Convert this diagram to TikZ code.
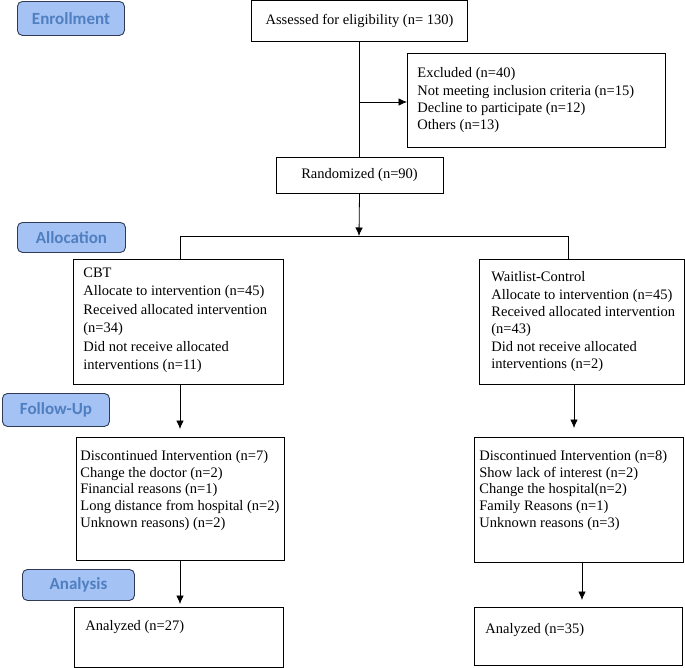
\documentclass[tikz,border=0pt]{standalone}
\usepackage{fontspec}
\setmainfont{Liberation Serif}
\newfontfamily\stagefont{Carlito}
\usetikzlibrary{arrows.meta}

\definecolor{stagefill}{HTML}{A4C2F4}
\definecolor{stagetext}{HTML}{4F7FC0}
\definecolor{stageline}{HTML}{2F3B55}

\begin{document}
\begin{tikzpicture}[x=1pt,y=-1pt,>={Latex[length=8.5pt,width=7.5pt]},line width=0.8pt,
        stage/.style={draw=stageline,fill=stagefill,rounded corners=5pt,line width=0.9pt,
          anchor=north west,inner sep=0pt,text=stagetext,
          font=\stagefont\bfseries\fontsize{17}{17}\selectfont},
        box/.style={draw,line width=1pt,anchor=north west,inner sep=0pt,
          font=\rmfamily\fontsize{14.5}{17}\selectfont},
        txt/.style={anchor=north west,inner sep=0pt,align=left,
          font=\rmfamily\fontsize{14.5}{17.3}\selectfont}]

  \useasboundingbox (0,0) rectangle (685,667);

  % stage labels
  \node[stage,minimum width=107pt,minimum height=34pt] (enrol) at (17,1) {Enrollment};
  \node[stage,minimum width=108pt,minimum height=30pt] (alloc) at (17,222) {Allocation};
  \node[stage,minimum width=107pt,minimum height=33pt] (follow) at (2,393) {Follow-Up};
  \node[stage,minimum width=112pt,minimum height=31pt] (analys) at (22,569) {Analysis};

  % enrollment
  \node[box,minimum width=216pt,minimum height=41pt] (assess) at (251,0)
        {Assessed for eligibility (n= 130)};
  \node[box,minimum width=258pt,minimum height=94pt] (excl) at (407,53) {};
  \node[txt] (excl-t) at (417,67.5) {Excluded (n=40)\\Not meeting inclusion criteria (n=15)\\
        Decline to participate (n=12)\\Others (n=13)};
  \node[box,minimum width=167pt,minimum height=36pt] (rand) at (275.5,157) {Randomized (n=90)};

  % allocation
  \node[box,minimum width=210pt,minimum height=125pt] (cbt) at (73,259) {};
  \node[txt,font=\rmfamily\fontsize{14.5}{18.5}\selectfont] (cbt-t) at (83,267) {CBT\\Allocate to intervention (n=45)\\
        Received allocated intervention\\(n=34)\\Did not receive allocated\\interventions (n=11)};
  \node[box,minimum width=205pt,minimum height=125pt] (wait) at (479,259) {};
  \node[txt] (wait-t) at (491,271.5) {Waitlist-Control\\Allocate to intervention (n=45)\\
        Received allocated intervention\\(n=43)\\Did not receive allocated\\interventions (n=2)};

  % follow-up
  \node[box,minimum width=208pt,minimum height=123pt] (cbt-f) at (76,437) {};
  \node[txt,font=\rmfamily\fontsize{14.5}{16.7}\selectfont] (cbt-ft) at (80,450) {Discontinued Intervention (n=7)\\
        Change the doctor (n=2)\\Financial reasons (n=1)\\Long distance from hospital (n=2)\\
        Unknown reasons) (n=2)};
  \node[box,minimum width=209pt,minimum height=125pt] (wait-f) at (474,437) {};
  \node[txt,font=\rmfamily\fontsize{14.5}{16.7}\selectfont] (wait-ft) at (479,450) {Discontinued Intervention (n=8)\\
        Show lack of interest (n=2)\\Change the hospital(n=2)\\Family Reasons (n=1)\\
        Unknown reasons (n=3)};

  % analysis
  \node[box,minimum width=209pt,minimum height=60pt] (cbt-a) at (74,607) {};
  \node[txt] (cbt-at) at (85,620) {Analyzed (n=27)};
  \node[box,minimum width=208pt,minimum height=58pt] (wait-a) at (474,607) {};
  \node[txt] (wait-at) at (485,623) {Analyzed (n=35)};

  % connectors
  \coordinate (excl-in) at (359,102);
  \coordinate (split) at (359,236);
  \coordinate (left-top) at (180,236);
  \coordinate (right-top) at (568,236);
  \coordinate (cbt-arr) at (180,429);
  \coordinate (wait-arr) at (574,428);
  \coordinate (cbt-arr2) at (180,604);
  \coordinate (wait-arr2) at (582,600);

  \draw (assess.south) -- (rand.north);
  \draw[->] (excl-in) -- (excl-in -| excl.west);
  \draw[->] (rand.south) -- (split);
  \draw (cbt.north -| left-top) -- (left-top) -- (right-top) -- (right-top |- wait.north);
  \draw[->] (cbt.south -| cbt-arr) -- (cbt-arr);
  \draw[->] (wait.south -| wait-arr) -- (wait-arr);
  \draw[->] (cbt-f.south -| cbt-arr2) -- (cbt-arr2);
  \draw[->] (wait-f.south -| wait-arr2) -- (wait-arr2);

\end{tikzpicture}
\end{document}
